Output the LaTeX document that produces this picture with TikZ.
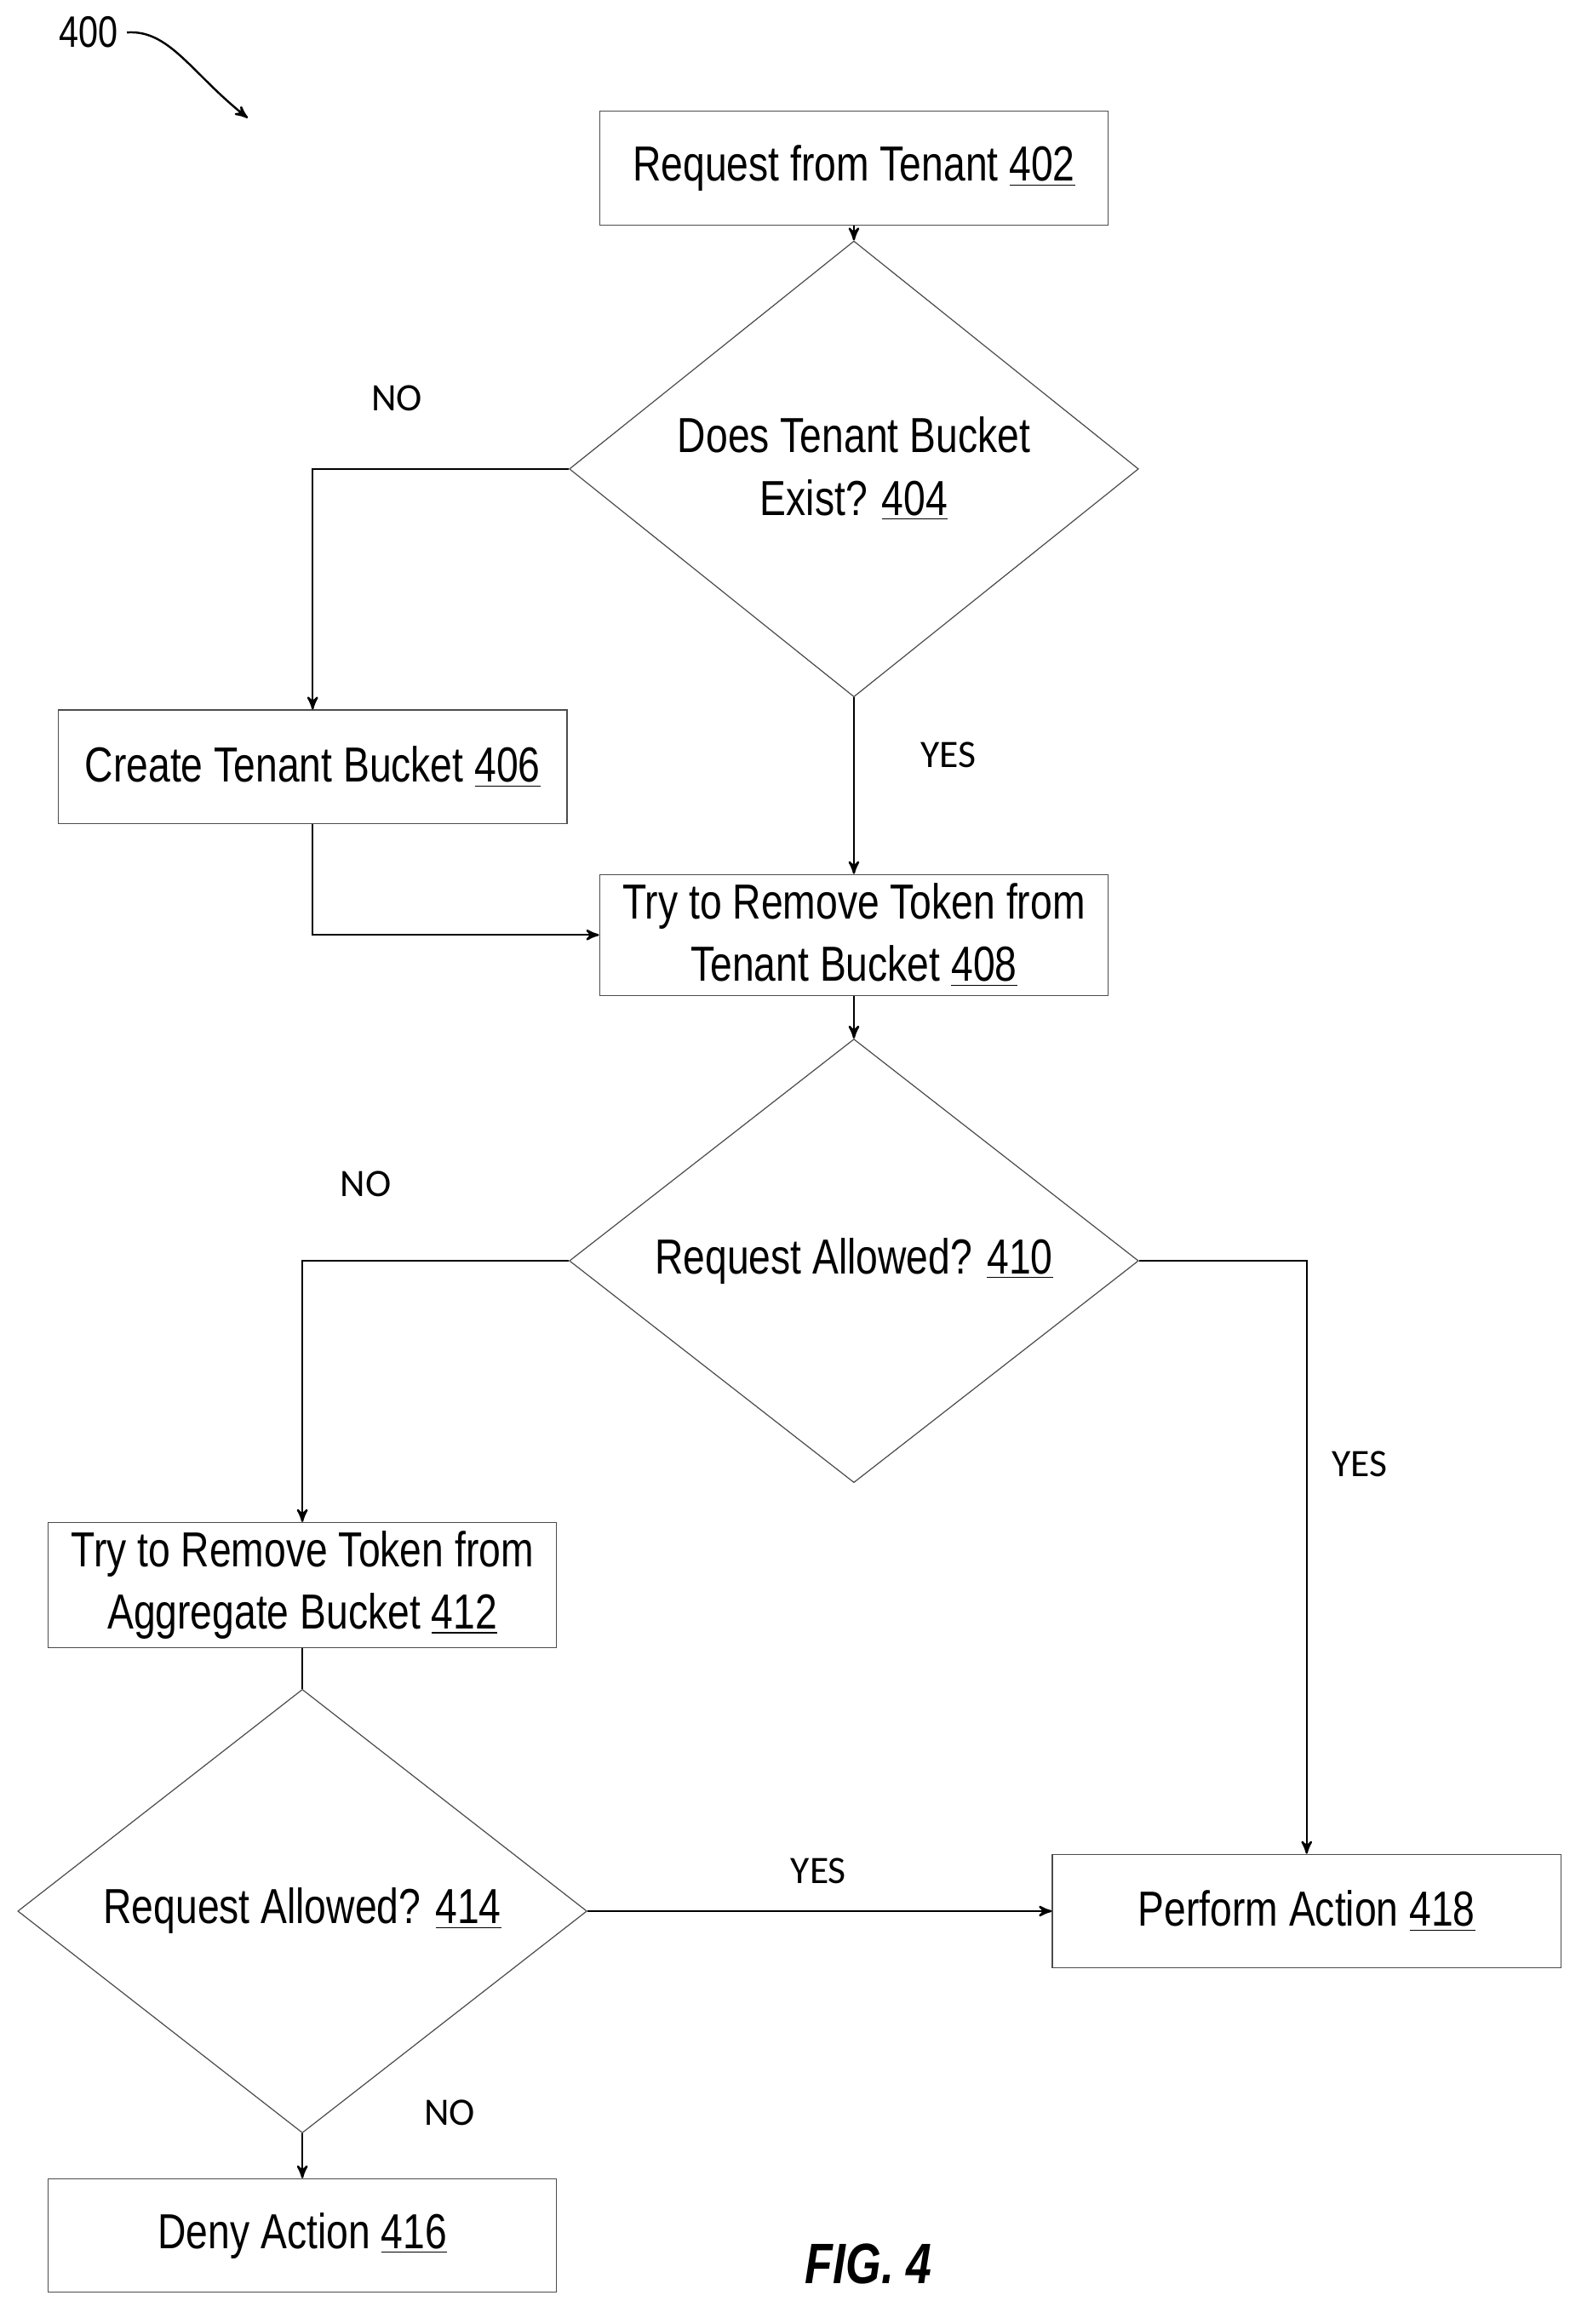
\documentclass[tikz,border=0pt]{standalone}
\usepackage{fontspec}
\setmainfont{Liberation Sans}[FakeStretch=0.8]
\newfontfamily\lblfont{Carlito}
\usetikzlibrary{shapes.geometric,arrows,positioning}
\tikzset{
>=stealth',
  process/.style={
    rectangle,
    draw=black!70, thin,
    minimum width=6.9cm,
    minimum height=1.54cm,
    align=center,
    font=\fontsize{19}{24}\selectfont},
  test/.style={
    diamond,
    draw=black!70, thin,
    minimum width=7.72cm,
    minimum height=3.94cm,
    inner sep=0pt,
    align=center,
    font=\fontsize{19}{24}\selectfont},
  line/.style={draw, thick, ->},
  answer/.style={font=\lblfont\fontsize{15}{18}\selectfont},
}
\begin{document}
\begin{tikzpicture}[x=0.02cm, y=-0.02cm]
    \useasboundingbox (0,0) rectangle (1076,1576);

    % boxes
    \node[process] (request) at (579,114) {Request from Tenant \underline{402}};
    \node[test] (exists) at (579,318) {Does Tenant Bucket\\Exist? \underline{404}};
    \node[process] (create) at (212,520) {Create Tenant Bucket \underline{406}};
    \node[process] (tenant) at (579,634) {Try to Remove Token from\\Tenant Bucket \underline{408}};
    \node[test] (allowA) at (579,855) {Request Allowed? \underline{410}};
    \node[process] (aggregate) at (205,1075) {Try to Remove Token from\\Aggregate Bucket \underline{412}};
    \node[test] (allowB) at (205,1296) {Request Allowed? \underline{414}};
    \node[process] (perform) at (886,1296) {Perform Action \underline{418}};
    \node[process] (deny) at (205,1516) {Deny Action \underline{416}};

    % connectors
    \path[line] (request) -- (exists);
    \path[line] (exists.west) -| (create.north);
    \path[line] (exists.south) -- (tenant.north);
    \path[line] (create.south) |- (tenant.west);
    \path[line] (tenant) -- (allowA);
    \path[line] (allowA.west) -| (aggregate.north);
    \path[line] (allowA.east) -| (perform.north);
    \draw[thick] (aggregate.south) -- (allowB.north);
    \path[line] (allowB.east) -- (perform.west);
    \path[line] (allowB.south) -- (deny.north);

    % answers
    \node[answer] (noA) at (269,270) {NO};
    \node[answer] (yesA) at (643,512) {YES};
    \node[answer] (noB) at (248,803) {NO};
    \node[answer] (yesB) at (922,993) {YES};
    \node[answer] (yesC) at (555,1269) {YES};
    \node[answer] (noC) at (305,1433) {NO};

    % figure labels
    \node[font=\fontsize{17}{20}\selectfont] (fignum) at (60,22) {400};
    \coordinate (figtip) at (168,80);
    \draw[thick,->] (fignum.east) .. controls (115,20) and (130,50) .. (figtip);
    \node[font=\bfseries\itshape\fontsize{22}{26}\selectfont] (fig) at (589,1535) {FIG. 4};
\end{tikzpicture}
\end{document}
